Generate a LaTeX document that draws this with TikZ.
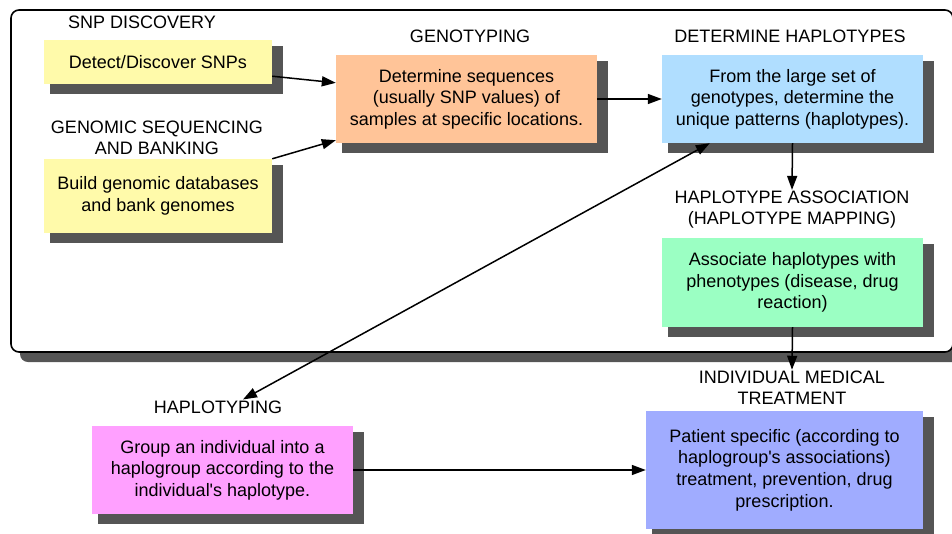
\documentclass[tikz,border=0pt]{standalone}
\usepackage{fontspec}
\setmainfont{Liberation Sans}
\usetikzlibrary{arrows.meta}
\pgfdeclarelayer{bgA}
\pgfdeclarelayer{bgB}
\pgfsetlayers{bgA,bgB,main}
\definecolor{cyel}{RGB}{255,250,170}
\definecolor{corg}{RGB}{255,196,152}
\definecolor{cblu}{RGB}{176,222,255}
\definecolor{cgrn}{RGB}{155,255,195}
\definecolor{cpnk}{RGB}{255,160,255}
\definecolor{cprp}{RGB}{160,172,255}
\definecolor{cshd}{RGB}{85,85,85}
\begin{document}
\begin{tikzpicture}[x=1pt,y=-1pt,
  box/.style={draw=none, inner sep=0pt, align=center, font=\fontsize{18}{21.6}\selectfont},
  lbl/.style={inner sep=1pt, align=center, font=\fontsize{18}{20.5}\selectfont},
  arr/.style={-{Triangle[length=14pt,width=10pt]}, line width=1.5pt},
  darr/.style={{Triangle[length=14pt,width=10pt]}-{Triangle[length=14pt,width=10pt]}, line width=1.5pt},
]
\useasboundingbox (0,0) rectangle (952,533);

% boxes
\node[box, fill=cyel, minimum width=228pt, minimum height=44pt] (det) at (158,62) {Detect/Discover SNPs};
\node[box, fill=cyel, minimum width=228pt, minimum height=74pt] (build) at (158,196) {Build genomic databases\\and bank genomes};
\node[box, fill=corg, minimum width=261pt, minimum height=88pt] (geno) at (466.5,99) {Determine sequences\\(usually SNP values) of\\samples at specific locations.};
\node[box, fill=cblu, minimum width=261pt, minimum height=88pt] (dhap) at (792.5,99) {From the large set of\\genotypes, determine the\\unique patterns (haplotypes).};
\node[box, fill=cgrn, minimum width=261pt, minimum height=89pt] (assoc) at (792.5,282.5) {Associate haplotypes with\\phenotypes (disease, drug\\reaction)};
\node[box, fill=cprp, minimum width=277pt, minimum height=118pt] (treat) at (784.5,470) {Patient specific (according to\\haplogroup\textquotesingle s associations)\\treatment, prevention, drug\\prescription.};
\node[box, fill=cpnk, minimum width=261pt, minimum height=88pt] (hbox) at (222.5,470) {Group an individual into a\\haplogroup according to the\\individual\textquotesingle s haplotype.};

% labels
\node[lbl] (lsnp) at (142,22) {SNP DISCOVERY};
\node[lbl] (lgen) at (157,138) {GENOMIC SEQUENCING\\AND BANKING};
\node[lbl] (lgeno) at (470,36) {GENOTYPING};
\node[lbl] (ldhap) at (790,36) {DETERMINE HAPLOTYPES};
\node[lbl] (lassoc) at (792,209.5) {HAPLOTYPE ASSOCIATION\\(HAPLOTYPE MAPPING)};
\node[lbl] (ltreat) at (792,387.5) {INDIVIDUAL MEDICAL\\TREATMENT};
\node[lbl] (lhap) at (218,407) {HAPLOTYPING};

% shadows and frame
\begin{pgfonlayer}{bgB}
\foreach \n in {det,build,geno,dhap,assoc,treat,hbox}{
  \fill[cshd] ([xshift=6pt,yshift=-6pt]\n.north west) rectangle ([xshift=11pt,yshift=-10pt]\n.south east);
}
\end{pgfonlayer}
\begin{pgfonlayer}{bgA}
\fill[cshd, rounded corners=8pt] (20,20) rectangle (963,362);
\draw[line width=1.6pt, fill=white, rounded corners=8pt] (11,10) rectangle (953,352);
\end{pgfonlayer}

% connectors
\coordinate (hapTip) at ([xshift=25pt]lhap.north);
\draw[arr] ([yshift=8pt]det.south east) -- ([yshift=-28pt]geno.north west);
\draw[arr] (build.north east) -- ([yshift=3pt]geno.south west);
\draw[arr] (geno.east) -- (dhap.west);
\draw[arr] (dhap.south) -- (lassoc.north);
\draw[arr] (assoc.south) -- (ltreat.north);
\draw[arr] (hbox.east) -- (treat.west);
\draw[darr] (hapTip) -- ([xshift=48pt]dhap.south west);
\end{tikzpicture}
\end{document}
